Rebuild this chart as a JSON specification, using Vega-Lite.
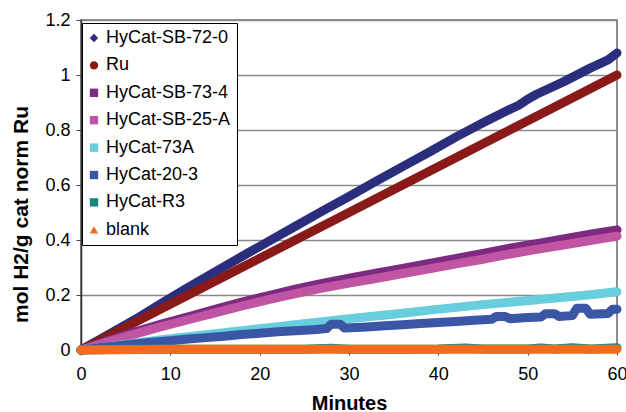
{
  "$schema": "https://vega.github.io/schema/vega-lite/v6.json",
  "width": 536,
  "height": 330,
  "autosize": {"type": "none"},
  "padding": {"left": 81, "top": 20, "right": 9, "bottom": 62},
  "background": "white",
  "config": {"font": "Liberation Sans", "view": {"stroke": "#8c8c8c", "strokeWidth": 2}},
  "data": {"values": [
    {"s":"HyCat-SB-72-0","t":0,"v":0},{"s":"HyCat-SB-72-0","t":3,"v":0.055},{"s":"HyCat-SB-72-0","t":6,"v":0.11},{"s":"HyCat-SB-72-0","t":9,"v":0.17},{"s":"HyCat-SB-72-0","t":12,"v":0.228},{"s":"HyCat-SB-72-0","t":15,"v":0.284},{"s":"HyCat-SB-72-0","t":18,"v":0.34},{"s":"HyCat-SB-72-0","t":21,"v":0.395},{"s":"HyCat-SB-72-0","t":24,"v":0.45},{"s":"HyCat-SB-72-0","t":27,"v":0.505},{"s":"HyCat-SB-72-0","t":30,"v":0.558},{"s":"HyCat-SB-72-0","t":33,"v":0.613},{"s":"HyCat-SB-72-0","t":36,"v":0.667},{"s":"HyCat-SB-72-0","t":39,"v":0.72},{"s":"HyCat-SB-72-0","t":42,"v":0.775},{"s":"HyCat-SB-72-0","t":45,"v":0.826},{"s":"HyCat-SB-72-0","t":48,"v":0.875},{"s":"HyCat-SB-72-0","t":49,"v":0.89},{"s":"HyCat-SB-72-0","t":50,"v":0.912},{"s":"HyCat-SB-72-0","t":51,"v":0.93},{"s":"HyCat-SB-72-0","t":54,"v":0.975},{"s":"HyCat-SB-72-0","t":57,"v":1.025},{"s":"HyCat-SB-72-0","t":59,"v":1.055},{"s":"HyCat-SB-72-0","t":60,"v":1.08},
    {"s":"Ru","t":0,"v":0},{"s":"Ru","t":3,"v":0.05},{"s":"Ru","t":6,"v":0.1},{"s":"Ru","t":9,"v":0.15},{"s":"Ru","t":12,"v":0.2},{"s":"Ru","t":15,"v":0.25},{"s":"Ru","t":18,"v":0.3},{"s":"Ru","t":21,"v":0.35},{"s":"Ru","t":24,"v":0.4},{"s":"Ru","t":27,"v":0.45},{"s":"Ru","t":30,"v":0.5},{"s":"Ru","t":33,"v":0.55},{"s":"Ru","t":36,"v":0.6},{"s":"Ru","t":39,"v":0.65},{"s":"Ru","t":42,"v":0.7},{"s":"Ru","t":45,"v":0.75},{"s":"Ru","t":48,"v":0.8},{"s":"Ru","t":51,"v":0.85},{"s":"Ru","t":54,"v":0.9},{"s":"Ru","t":57,"v":0.95},{"s":"Ru","t":60,"v":1.0},
    {"s":"HyCat-SB-73-4","t":0,"v":0},{"s":"HyCat-SB-73-4","t":3,"v":0.034},{"s":"HyCat-SB-73-4","t":6,"v":0.065},{"s":"HyCat-SB-73-4","t":9,"v":0.094},{"s":"HyCat-SB-73-4","t":12,"v":0.121},{"s":"HyCat-SB-73-4","t":15,"v":0.148},{"s":"HyCat-SB-73-4","t":18,"v":0.174},{"s":"HyCat-SB-73-4","t":21,"v":0.198},{"s":"HyCat-SB-73-4","t":24,"v":0.221},{"s":"HyCat-SB-73-4","t":27,"v":0.242},{"s":"HyCat-SB-73-4","t":30,"v":0.261},{"s":"HyCat-SB-73-4","t":33,"v":0.279},{"s":"HyCat-SB-73-4","t":36,"v":0.297},{"s":"HyCat-SB-73-4","t":39,"v":0.315},{"s":"HyCat-SB-73-4","t":42,"v":0.333},{"s":"HyCat-SB-73-4","t":45,"v":0.351},{"s":"HyCat-SB-73-4","t":48,"v":0.37},{"s":"HyCat-SB-73-4","t":51,"v":0.387},{"s":"HyCat-SB-73-4","t":54,"v":0.404},{"s":"HyCat-SB-73-4","t":57,"v":0.421},{"s":"HyCat-SB-73-4","t":60,"v":0.437},
    {"s":"HyCat-SB-25-A","t":0,"v":0},{"s":"HyCat-SB-25-A","t":3,"v":0.03},{"s":"HyCat-SB-25-A","t":6,"v":0.058},{"s":"HyCat-SB-25-A","t":9,"v":0.085},{"s":"HyCat-SB-25-A","t":12,"v":0.11},{"s":"HyCat-SB-25-A","t":15,"v":0.135},{"s":"HyCat-SB-25-A","t":18,"v":0.16},{"s":"HyCat-SB-25-A","t":21,"v":0.183},{"s":"HyCat-SB-25-A","t":24,"v":0.205},{"s":"HyCat-SB-25-A","t":27,"v":0.225},{"s":"HyCat-SB-25-A","t":30,"v":0.243},{"s":"HyCat-SB-25-A","t":33,"v":0.26},{"s":"HyCat-SB-25-A","t":36,"v":0.278},{"s":"HyCat-SB-25-A","t":39,"v":0.295},{"s":"HyCat-SB-25-A","t":42,"v":0.313},{"s":"HyCat-SB-25-A","t":45,"v":0.33},{"s":"HyCat-SB-25-A","t":48,"v":0.349},{"s":"HyCat-SB-25-A","t":51,"v":0.366},{"s":"HyCat-SB-25-A","t":54,"v":0.382},{"s":"HyCat-SB-25-A","t":57,"v":0.398},{"s":"HyCat-SB-25-A","t":60,"v":0.414},
    {"s":"HyCat-73A","t":0,"v":0},{"s":"HyCat-73A","t":3,"v":0.012},{"s":"HyCat-73A","t":6,"v":0.025},{"s":"HyCat-73A","t":9,"v":0.037},{"s":"HyCat-73A","t":12,"v":0.048},{"s":"HyCat-73A","t":15,"v":0.059},{"s":"HyCat-73A","t":18,"v":0.07},{"s":"HyCat-73A","t":21,"v":0.081},{"s":"HyCat-73A","t":24,"v":0.092},{"s":"HyCat-73A","t":27,"v":0.103},{"s":"HyCat-73A","t":30,"v":0.114},{"s":"HyCat-73A","t":33,"v":0.124},{"s":"HyCat-73A","t":36,"v":0.134},{"s":"HyCat-73A","t":39,"v":0.145},{"s":"HyCat-73A","t":42,"v":0.155},{"s":"HyCat-73A","t":45,"v":0.165},{"s":"HyCat-73A","t":48,"v":0.174},{"s":"HyCat-73A","t":51,"v":0.183},{"s":"HyCat-73A","t":54,"v":0.192},{"s":"HyCat-73A","t":57,"v":0.201},{"s":"HyCat-73A","t":60,"v":0.212},
    {"s":"HyCat-20-3","t":0,"v":0},{"s":"HyCat-20-3","t":2,"v":0.008},{"s":"HyCat-20-3","t":4,"v":0.015},{"s":"HyCat-20-3","t":6,"v":0.022},{"s":"HyCat-20-3","t":8,"v":0.028},{"s":"HyCat-20-3","t":10,"v":0.034},{"s":"HyCat-20-3","t":12,"v":0.04},{"s":"HyCat-20-3","t":14,"v":0.045},{"s":"HyCat-20-3","t":16,"v":0.05},{"s":"HyCat-20-3","t":18,"v":0.056},{"s":"HyCat-20-3","t":20,"v":0.061},{"s":"HyCat-20-3","t":22,"v":0.066},{"s":"HyCat-20-3","t":24,"v":0.07},{"s":"HyCat-20-3","t":26,"v":0.074},{"s":"HyCat-20-3","t":27.5,"v":0.078},{"s":"HyCat-20-3","t":28,"v":0.094},{"s":"HyCat-20-3","t":29,"v":0.094},{"s":"HyCat-20-3","t":29.5,"v":0.08},{"s":"HyCat-20-3","t":32,"v":0.084},{"s":"HyCat-20-3","t":34,"v":0.088},{"s":"HyCat-20-3","t":36,"v":0.092},{"s":"HyCat-20-3","t":38,"v":0.096},{"s":"HyCat-20-3","t":40,"v":0.1},{"s":"HyCat-20-3","t":42,"v":0.104},{"s":"HyCat-20-3","t":44,"v":0.108},{"s":"HyCat-20-3","t":46,"v":0.112},{"s":"HyCat-20-3","t":46.5,"v":0.122},{"s":"HyCat-20-3","t":47.5,"v":0.122},{"s":"HyCat-20-3","t":48,"v":0.114},{"s":"HyCat-20-3","t":50,"v":0.118},{"s":"HyCat-20-3","t":51.5,"v":0.12},{"s":"HyCat-20-3","t":52,"v":0.132},{"s":"HyCat-20-3","t":53,"v":0.132},{"s":"HyCat-20-3","t":53.5,"v":0.122},{"s":"HyCat-20-3","t":55,"v":0.125},{"s":"HyCat-20-3","t":55.5,"v":0.152},{"s":"HyCat-20-3","t":56.5,"v":0.152},{"s":"HyCat-20-3","t":57,"v":0.13},{"s":"HyCat-20-3","t":59,"v":0.133},{"s":"HyCat-20-3","t":59.5,"v":0.148},{"s":"HyCat-20-3","t":60,"v":0.148},
    {"s":"HyCat-R3","t":0,"v":0},{"s":"HyCat-R3","t":5,"v":0.003},{"s":"HyCat-R3","t":10,"v":0.003},{"s":"HyCat-R3","t":15,"v":0.003},{"s":"HyCat-R3","t":20,"v":0.003},{"s":"HyCat-R3","t":25,"v":0.003},{"s":"HyCat-R3","t":28,"v":0.006},{"s":"HyCat-R3","t":30,"v":0.003},{"s":"HyCat-R3","t":35,"v":0.003},{"s":"HyCat-R3","t":40,"v":0.004},{"s":"HyCat-R3","t":43,"v":0.007},{"s":"HyCat-R3","t":45,"v":0.004},{"s":"HyCat-R3","t":50,"v":0.004},{"s":"HyCat-R3","t":51.5,"v":0.007},{"s":"HyCat-R3","t":53,"v":0.004},{"s":"HyCat-R3","t":55,"v":0.008},{"s":"HyCat-R3","t":57,"v":0.004},{"s":"HyCat-R3","t":60,"v":0.008},
    {"s":"blank","t":0,"v":0},{"s":"blank","t":10,"v":0.003},{"s":"blank","t":20,"v":0.003},{"s":"blank","t":30,"v":0.003},{"s":"blank","t":40,"v":0.003},{"s":"blank","t":50,"v":0.003},{"s":"blank","t":60,"v":0.003}
  ]},
  "encoding": {
    "x": {"field": "t", "type": "quantitative", "scale": {"domain": [0, 60], "nice": false},
      "axis": {"title": "Minutes", "values": [0,10,20,30,40,50,60], "grid": false, "tickSize": 5, "tickColor": "#404040", "domainColor": "#404040", "domainWidth": 1.5, "labelFontSize": 18, "labelPadding": 10, "labelFlush": false, "labelColor": "black", "titleFontSize": 20, "titleFontWeight": "bold", "titleColor": "black", "titleBaseline": "alphabetic", "titleY": 59}},
    "y": {"field": "v", "type": "quantitative", "scale": {"domain": [0, 1.2], "nice": false},
      "axis": {"title": "mol H2/g cat norm Ru", "values": [0,0.2,0.4,0.6,0.8,1,1.2], "format": "~g", "grid": true, "gridColor": "#8a8a8a", "gridWidth": 1.5, "tickSize": 5, "tickColor": "#404040", "domainColor": "#303030", "domainWidth": 1.5, "labelFontSize": 18, "labelPadding": 6, "labelFlush": false, "labelColor": "black", "titleFontSize": 21, "titleFontWeight": "bold", "titleColor": "black", "titleBaseline": "alphabetic", "titleX": -54, "titleY": 194}}
  },
  "layer": [
    {"mark": {"type": "point", "filled": true, "size": 20, "opacity": 1},
     "encoding": {
       "color": {"field": "s", "type": "nominal",
         "scale": {"domain": ["HyCat-SB-72-0","Ru","HyCat-SB-73-4","HyCat-SB-25-A","HyCat-73A","HyCat-20-3","HyCat-R3","blank"], "range": ["#2a2e7c","#8a1a1a","#7c2a82","#c056a3","#68cddc","#3b56a5","#15877f","#f36b21"]},
         "legend": {"orient": "none", "legendX": 1, "legendY": 3, "title": null, "fillColor": "white", "strokeColor": "black", "padding": 6, "rowPadding": 9.4, "labelFontSize": 18, "labelColor": "black", "symbolSize": 70, "symbolOffset": -3, "labelOffset": 3, "symbolStrokeWidth": 0, "labelLimit": 300}},
       "shape": {"field": "s", "type": "nominal",
         "scale": {"domain": ["HyCat-SB-72-0","Ru","HyCat-SB-73-4","HyCat-SB-25-A","HyCat-73A","HyCat-20-3","HyCat-R3","blank"], "range": ["diamond","circle","square","square","square","square","square","triangle-up"]},
         "legend": {"orient": "none", "legendX": 1, "legendY": 3, "title": null, "fillColor": "white", "strokeColor": "black", "padding": 6, "rowPadding": 9.4, "labelFontSize": 18, "labelColor": "black", "symbolSize": 70, "symbolOffset": -3, "labelOffset": 3, "symbolStrokeWidth": 0, "labelLimit": 300}}
     }},
    {"mark": {"type": "line", "strokeWidth": 9, "strokeCap": "round", "strokeJoin": "round"},
     "encoding": {"stroke": {"field": "s", "type": "nominal",
       "scale": {"domain": ["HyCat-SB-72-0","Ru","HyCat-SB-73-4","HyCat-SB-25-A","HyCat-73A","HyCat-20-3","HyCat-R3","blank"], "range": ["#2a2e7c","#8a1a1a","#7c2a82","#c056a3","#68cddc","#3b56a5","#15877f","#f36b21"]},
       "legend": null}}}
  ]
}
